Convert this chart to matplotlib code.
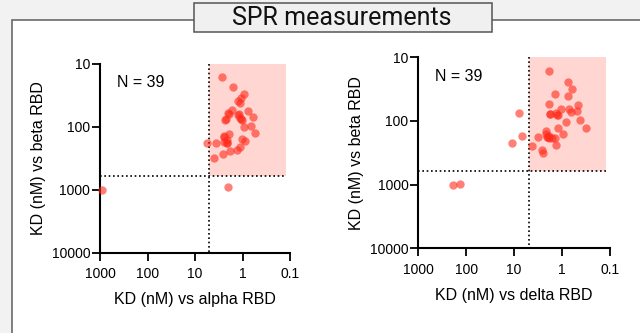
import numpy as np
import matplotlib
matplotlib.use("Agg")
from matplotlib import pyplot as plt
from matplotlib.patches import Rectangle

plt.rcParams['font.family'] = ['Liberation Sans', 'DejaVu Sans']

# KD values (nM)
alpha_kd = [2.74, 1.61, 0.92, 1.08, 1.26, 0.76, 1.69, 2.0, 1.2, 0.59, 2.2, 1.13, 1.04,
            0.92, 0.67, 0.55, 1.9, 2.45, 2.15, 2.5, 1.04, 0.89, 5.5, 3.7, 2.15, 1.13,
            1.32, 1.83, 2.6, 3.9, 2.05, 920, 2.1, 1.95, 1.25, 2.3, 1.1, 2.4, 1.15]
beta_kd_left = [16.3, 23.5, 31, 35, 39, 56, 55, 62, 64, 70, 77, 74, 79,
                101, 97, 129, 132, 142, 164, 175, 160, 169, 181, 181, 181, 210,
                237, 245, 274, 313, 923, 1020, 183, 63, 66, 78, 76, 145, 42]

delta_kd = [1.85, 0.76, 0.61, 1.41, 0.75, 1.88, 1.06, 0.47, 0.71, 0.66, 0.50, 1.35, 1.82,
            1.24, 8.1, 0.81, 0.43, 1.22, 0.31, 2.17, 0.94, 2.11, 3.2, 1.85, 1.41, 6.8,
            11.2, 4.3, 1.35, 2.67, 2.55, 188, 132, 2.0, 1.9, 2.2, 1.8, 1.3, 1.6]
beta_kd_right = [16.3, 24, 31, 38, 40, 55, 64, 57, 64, 72, 70, 74, 77,
                 82, 76, 103, 98, 130, 130, 144, 158, 178, 178, 182, 182, 175,
                 223, 246, 240, 284, 319, 1029, 968, 180, 170, 160, 77, 80, 185]

x_ticks = [1000, 100, 10, 1, 0.1]
x_labels = ["1000", "100", "10", "1", "0.1"]
y_ticks = [10, 100, 1000, 10000]
y_labels = ["10", "100", "1000", "10000"]

x_cut = 5       # nM threshold on x
y_cut = 600     # nM threshold on y
shade_end = 0.12

fig = plt.figure(figsize=(6.4, 3.33), dpi=100, facecolor='#f2f2f2')

# white panel with grey border
frame = Rectangle((12 / 640, -0.2), 1.2, 0.2 + 1 - 19.5 / 333, transform=fig.transFigure,
                  facecolor='white', edgecolor='#6a6a6a', linewidth=1.2, zorder=-5)
fig.patches.append(frame)

# title box
tbox = Rectangle((194 / 640, 1 - 32 / 333), 298 / 640, 28.5 / 333, transform=fig.transFigure,
                 facecolor='#f0f0f0', edgecolor='#555555', linewidth=1.1, zorder=-4)
fig.patches.append(tbox)
fig.text(342 / 640, 1 - 18 / 333, "SPR measurements", ha='center', va='center',
         fontsize=18, family=['Roboto', 'DejaVu Sans'], color='#111111')


def panel(ax, xs, ys, xlabel):
    ax.set_xscale('log')
    ax.set_yscale('log')
    ax.set_xlim(1000, 0.1)
    ax.set_ylim(10000, 10)
    ax.fill_between([shade_end, x_cut], 10, y_cut, color='#ffd6d1', linewidth=0, zorder=1)
    ax.plot([x_cut, x_cut], [10, 10000], color='black', linestyle=(0, (1, 1.6)), lw=1.2, zorder=2)
    ax.plot([1000, shade_end], [y_cut, y_cut], color='black', linestyle=(0, (1, 1.6)), lw=1.2, zorder=2)
    ax.scatter(xs, ys, s=36, color='#ff2b1c', alpha=0.6, linewidths=0, zorder=3, clip_on=False)

    ax.minorticks_off()
    ax.set_xticks(x_ticks)
    ax.set_xticklabels(x_labels)
    ax.set_yticks(y_ticks)
    ax.set_yticklabels(y_labels)
    ax.tick_params(axis='both', direction='out', length=5.5, width=1.3, labelsize=10, color='black')
    ax.tick_params(axis='x', pad=5)
    ax.tick_params(axis='y', pad=1.5)
    for side in ['top', 'right']:
        ax.spines[side].set_visible(False)
    for side in ['left', 'bottom']:
        ax.spines[side].set_linewidth(1.5)
    ax.set_facecolor('none')
    ax.set_xlabel(xlabel, fontsize=11.5, labelpad=8)
    ax.set_ylabel("KD (nM) vs beta RBD", fontsize=11.5, labelpad=4)
    ax.text(0.088, 0.9, "N = 39", transform=ax.transAxes, ha='left', va='center', fontsize=11.5)


ax1 = fig.add_axes([100 / 640, (333 - 252.5) / 333, 190 / 640, 189 / 333])
panel(ax1, alpha_kd, beta_kd_left, "KD (nM) vs alpha RBD")

ax2 = fig.add_axes([418.3 / 640, (333 - 248.3) / 333, 191.7 / 640, 191 / 333])
panel(ax2, delta_kd, beta_kd_right, "KD (nM) vs delta RBD")

fig.savefig("out.png", dpi=100, facecolor=fig.get_facecolor())
